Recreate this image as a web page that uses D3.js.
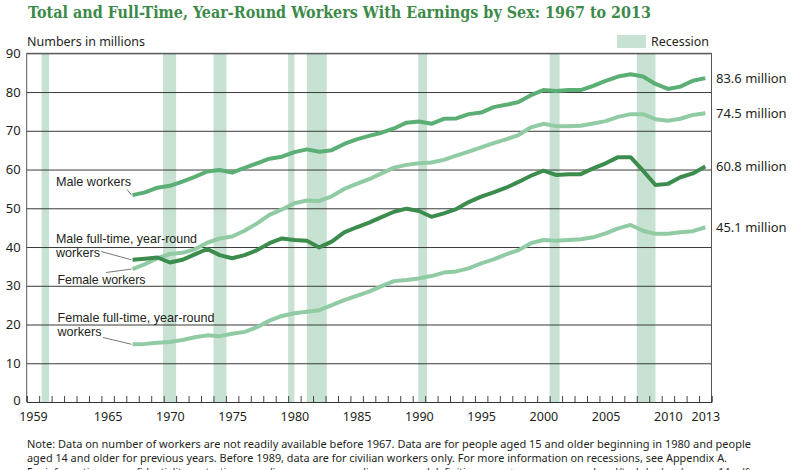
<!DOCTYPE html>
<html><head><meta charset="utf-8">
<script src="https://cdn.jsdelivr.net/npm/d3@7"></script>
<style>body{margin:0;background:#fff} svg{display:block}</style>
</head><body>
<svg id="c" width="800" height="470"></svg>
<script>
// ---------- DATA ----------
const years = [1967,1968,1969,1970,1971,1972,1973,1974,1975,1976,1977,1978,1979,1980,1981,1982,1983,1984,1985,1986,1987,1988,1989,1990,1991,1992,1993,1994,1995,1996,1997,1998,1999,2000,2001,2002,2003,2004,2005,2006,2007,2008,2009,2010,2011,2012,2013];
const maleWorkers = [53.4,54.1,55.3,55.8,56.9,58.1,59.5,59.9,59.2,60.4,61.6,62.8,63.3,64.5,65.2,64.6,65.0,66.6,67.8,68.7,69.5,70.6,72.1,72.4,71.8,73.1,73.2,74.3,74.7,76.1,76.7,77.4,79.2,80.5,80.3,80.5,80.5,81.6,82.9,84.0,84.6,84.0,82.1,80.8,81.4,82.9,83.6];
const femaleWorkers = [34.3,35.6,37.1,38.2,38.5,39.4,41.1,42.2,42.7,44.2,46.1,48.3,49.7,51.3,52.0,51.9,53.1,55.0,56.3,57.5,59.0,60.5,61.2,61.6,61.8,62.5,63.6,64.6,65.7,66.8,67.8,68.9,70.9,71.8,71.2,71.2,71.3,71.9,72.5,73.6,74.3,74.3,73.0,72.6,73.1,74.1,74.5];
const maleFullTime = [36.7,37.0,37.3,36.0,36.7,38.1,39.5,37.9,37.1,37.9,39.2,41.0,42.2,41.8,41.6,39.9,41.4,43.8,45.1,46.3,47.7,49.1,49.9,49.3,47.8,48.7,49.8,51.6,53.0,54.1,55.3,56.8,58.4,59.7,58.6,58.8,58.8,60.3,61.6,63.2,63.2,59.7,56.0,56.3,58.0,59.0,60.8];
const femaleFullTime = [14.9,15.0,15.3,15.5,16.0,16.7,17.2,17.0,17.6,18.1,19.3,21.0,22.2,22.9,23.3,23.7,25.0,26.3,27.4,28.5,29.9,31.2,31.5,31.9,32.5,33.4,33.7,34.5,35.8,36.8,38.1,39.2,41.0,41.8,41.6,41.8,42.0,42.5,43.5,44.8,45.7,44.2,43.4,43.4,43.8,44.1,45.1];
const recessionStart = [1960.2,1969.95,1974.0,1980.0,1981.5,1990.45,2001.0,2008.0];
const recessionEnd   = [1960.8,1971.0,1975.05,1980.5,1983.1,1991.15,2001.8,2009.5];
const xTickLabels = [1959,1965,1970,1975,1980,1985,1990,1995,2000,2005,2010,2013];
const yTickValues = [0,10,20,30,40,50,60,70,80,90];
const endLabels = ["83.6 million","74.5 million","60.8 million","45.1 million"];
const title = "Total and Full-Time, Year-Round Workers With Earnings by Sex: 1967 to 2013";
const noteLines = [
 "Note: Data on number of workers are not readily available before 1967. Data are for people aged 15 and older beginning in 1980 and people",
 "aged 14 and older for previous years. Before 1989, data are for civilian workers only. For more information on recessions, see Appendix A.",
 "For information on confidentiality protection, sampling error, nonsampling error, and definitions, see <www.census.gov/prod/techdoc/cps/cpsmar14.pdf>."
];

// ---------- LAYOUT ----------
const svg = d3.select("#c");
const L = 26.7, R = 711.5, T = 53.3, B = 402;
const sans = "'Noto Sans', 'Open Sans', sans-serif";
const annFont = "'Liberation Sans', Arial, sans-serif";
const x = d3.scaleLinear().domain([1959, 2014]).range([L, R]);
const y = d3.scaleLinear().domain([0, 90]).range([B, T]);
const textCol = "#231f20";

// title
svg.append("text").attr("x", 28).attr("y", 18)
  .attr("font-family", "'DejaVu Serif', serif").attr("font-weight", "bold")
  .attr("font-size", 17).attr("fill", "#3c8a48")
  .attr("textLength", 623).attr("lengthAdjust", "spacingAndGlyphs")
  .text(title);

svg.append("text").attr("x", 27).attr("y", 45.5)
  .attr("font-family", sans).attr("font-size", 12.5).attr("fill", textCol)
  .attr("textLength", 118).attr("lengthAdjust", "spacingAndGlyphs")
  .text("Numbers in millions");

// legend
svg.append("rect").attr("x", 617).attr("y", 35).attr("width", 29).attr("height", 13).attr("fill", "#c7e2d2");
svg.append("text").attr("x", 651).attr("y", 46).attr("font-family", sans).attr("font-size", 12.5)
  .attr("fill", textCol).attr("textLength", 58).attr("lengthAdjust", "spacingAndGlyphs").text("Recession");

// recession bands
svg.append("g").selectAll("rect").data(recessionStart).join("rect")
  .attr("x", (d) => x(d)).attr("width", (d, i) => x(recessionEnd[i]) - x(d))
  .attr("y", T).attr("height", B - T).attr("fill", "#c7e2d2");

// gridlines
svg.append("g").attr("transform", `translate(${L},0)`)
  .call(d3.axisLeft(y).tickValues(yTickValues.slice(1)).tickSize(-(R - L)).tickFormat(""))
  .call(g => g.select(".domain").remove())
  .call(g => g.selectAll("line").attr("stroke", "#3a3a3a").attr("stroke-width", 1));

// y labels
svg.append("g").attr("transform", `translate(${L},0)`)
  .call(d3.axisLeft(y).tickValues(yTickValues).tickSize(0).tickPadding(6))
  .call(g => g.select(".domain").remove())
  .call(g => g.selectAll("text").attr("font-family", sans).attr("font-size", 13).attr("fill", textCol))
  .call(g => g.selectAll(".tick").filter(d => d === 0).select("text").attr("dy", "0.2em"));

// frame
svg.append("path").attr("d", `M${L},${B}V${T}H${R}V${B}`).attr("fill", "none").attr("stroke", "#555").attr("stroke-width", 1);

// x axis ticks (year boundaries, inward)
svg.append("g").attr("transform", `translate(0,${B})`)
  .call(d3.axisBottom(x).tickValues(d3.range(1959, 2015)).tickSize(-6).tickFormat(""))
  .call(g => g.select(".domain").attr("stroke", "#333"))
  .call(g => g.selectAll("line").attr("stroke", "#444"));

// x labels (centered in year)
svg.append("g").attr("transform", `translate(0,${B})`)
  .call(d3.axisBottom(x).tickValues(xTickLabels.map(v => v + 0.5)).tickSize(0).tickPadding(10).tickFormat(d => String(Math.floor(d))))
  .call(g => g.select(".domain").remove())
  .call(g => g.selectAll("text").attr("font-family", sans).attr("font-size", 12.5).attr("fill", textCol));

// lines
const line = d3.line().x((d, i) => x(years[i] + 0.5)).y(d => y(d));
const series = [
  {v: femaleFullTime, c: "#90cba4"},
  {v: femaleWorkers, c: "#90cba4"},
  {v: maleFullTime, c: "#3c8c4d"},
  {v: maleWorkers, c: "#5caf74"}
];
svg.append("g").selectAll("path").data(series).join("path")
  .attr("d", d => line(d.v)).attr("fill", "none").attr("stroke", d => d.c)
  .attr("stroke-width", 4).attr("stroke-linejoin", "round").attr("stroke-linecap", "butt");

// end labels
const lastVals = [maleWorkers, femaleWorkers, maleFullTime, femaleFullTime].map(a => a[a.length - 1]);
svg.append("g").selectAll("text").data(endLabels).join("text")
  .attr("x", 716).attr("y", (d, i) => y(lastVals[i]) + 4.5)
  .attr("font-family", sans).attr("font-size", 13).attr("fill", textCol)
  .text(d => d);

// series annotations
const ann = svg.append("g").attr("font-family", annFont).attr("font-size", 12.2).attr("fill", textCol);
function label(lines, tx, ty, widths) {
  lines.forEach((t, k) => ann.append("text").attr("x", tx).attr("y", ty + k * 14)
    .attr("textLength", widths[k]).attr("lengthAdjust", "spacingAndGlyphs").text(t));
}
function leader(x1, y1, x2, y2) {
  ann.append("line").attr("x1", x1).attr("y1", y1).attr("x2", x2).attr("y2", y2)
    .attr("stroke", "#555").attr("stroke-width", 0.8);
}
label(["Male workers"], 56, 186, [75]);
leader(127, 189.5, x(1967.5) - 1, y(maleWorkers[0]));
label(["Male full-time, year-round", "workers"], 56, 243, [141, 44]);
leader(101, 251.5, x(1967.5) - 1, y(maleFullTime[0]));
label(["Female workers"], 57.5, 284, [88]);
leader(106, 272.5, x(1967.5) - 1, y(femaleWorkers[0]));
label(["Female full-time, year-round", "workers"], 57.5, 321.5, [157, 44]);
leader(103, 337.5, x(1967.5) - 1, y(femaleFullTime[0]));

// note
svg.append("g").selectAll("text").data(noteLines).join("text")
  .attr("x", 27).attr("y", (d, i) => 447.5 + i * 14)
  .attr("font-family", sans).attr("font-size", 11.5).attr("fill", textCol)
  .attr("textLength", (d, i) => [724, 700, 730][i]).attr("lengthAdjust", "spacingAndGlyphs")
  .text(d => d);
</script>
</body></html>
